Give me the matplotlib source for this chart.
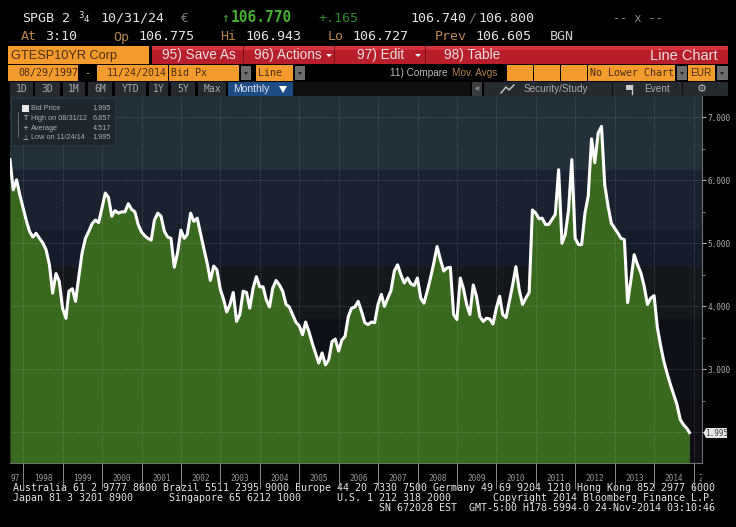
import matplotlib
matplotlib.use('Agg')
import pandas as pd
import matplotlib.dates as mdates
from matplotlib import pyplot as plt
from matplotlib.patches import Rectangle, Polygon

# monthly bid yield
y1997 = [6.33, 5.85, 6.01, 5.77, 5.56]
y1998 = [5.35, 5.19, 5.10, 5.16, 5.08, 5.01, 4.90, 4.66, 4.21, 4.52, 4.40, 3.97]
y1999 = [3.81, 4.24, 4.28, 4.08, 4.48, 4.85, 5.08, 5.19, 5.31, 5.37, 5.33, 5.56]
y2000 = [5.80, 5.73, 5.43, 5.52, 5.48, 5.50, 5.50, 5.63, 5.54, 5.50, 5.30, 5.18]
y2001 = [5.12, 5.08, 5.05, 5.37, 5.48, 5.43, 5.19, 5.10, 5.08, 4.62, 4.85, 5.21]
y2002 = [5.08, 5.14, 5.48, 5.35, 5.40, 5.16, 4.92, 4.69, 4.41, 4.64, 4.58, 4.27]
y2003 = [4.11, 3.91, 4.03, 4.22, 3.76, 3.87, 4.24, 4.22, 3.97, 4.29, 4.47, 4.31]
y2004 = [4.31, 4.11, 3.99, 4.29, 4.41, 4.34, 4.24, 4.03, 3.99, 3.87, 3.75, 3.69]
y2005 = [3.55, 3.75, 3.60, 3.42, 3.26, 3.10, 3.26, 3.07, 3.15, 3.44, 3.48, 3.29]
y2006 = [3.47, 3.52, 3.84, 3.97, 3.99, 4.08, 3.92, 3.74, 3.71, 3.75, 3.74, 4.03]
y2007 = [4.19, 4.00, 4.13, 4.25, 4.56, 4.66, 4.50, 4.37, 4.45, 4.36, 4.33, 4.45]
y2008 = [4.13, 4.05, 4.24, 4.45, 4.69, 4.95, 4.74, 4.56, 4.61, 4.62, 3.87, 3.79]
y2009 = [4.45, 4.29, 4.03, 3.87, 4.34, 4.16, 3.84, 3.76, 3.81, 3.80, 3.72, 3.97]
y2010 = [4.16, 3.87, 3.82, 4.08, 4.34, 4.63, 4.26, 4.03, 4.13, 4.22, 5.53, 5.48]
y2011 = [5.39, 5.40, 5.30, 5.30, 5.38, 5.46, 6.17, 5.00, 5.14, 5.53, 6.33, 5.08]
y2012 = [4.98, 4.98, 5.48, 5.75, 6.66, 6.28, 6.75, 6.857, 5.93, 5.59, 5.32, 5.24]
y2013 = [5.16, 5.08, 5.06, 4.06, 4.42, 4.82, 4.66, 4.53, 4.32, 4.03, 4.13, 4.17]
y2014 = [3.66, 3.39, 3.13, 2.94, 2.76, 2.60, 2.44, 2.20, 2.12, 2.06, 1.995]

values = y1997 + y1998 + y1999 + y2000 + y2001 + y2002 + y2003 + y2004 + y2005 \
    + y2006 + y2007 + y2008 + y2009 + y2010 + y2011 + y2012 + y2013 + y2014
dates = list(pd.date_range('1997-08-31', periods=len(values), freq='ME'))
dates[-1] = pd.Timestamp('2014-11-24')

years = list(range(1998, 2016))
ytick_major = [2, 3, 4, 5, 6, 7]
ytick_minor = [2.5, 3.5, 4.5, 5.5, 6.5]
ytick_labels = ['', '3.000', '4.000', '5.000', '6.000', '7.000']

legend_names = ['Bid Price', 'High on 08/31/12', 'Average', 'Low on 11/24/14']
legend_values = ['1.995', '6.857', '4.517', '1.995']

band_edges = [7.34, 6.16, 5.21, 4.62, 3.8, 2.5, 1.52]
band_colors = ['#22303a', '#1a2230', '#141c2a', '#14181d', '#0f1119', '#0e0e14']

GREEN = '#38691e'
ORANGE = '#f59a2c'
RED = '#b81d2a'
WHITE = '#e4e4e4'
LABEL = '#b5834f'
DARK = '#4a2d0c'
GREY = '#9a9a9a'
MONO = 'DejaVu Sans Mono'
SANS = 'Liberation Sans'

W, H = 736, 527
fig = plt.figure(figsize=(W / 100, H / 100), dpi=100, facecolor='black')

#==============================================================================
# terminal chrome, in pixels
#==============================================================================
bg = fig.add_axes([0, 0, 1, 1])
bg.set_xlim(0, W)
bg.set_ylim(H, 0)
bg.axis('off')


def box(x0, x1, y0, y1, color):
    bg.add_patch(Rectangle((x0, y0), x1 - x0, y1 - y0, fc=color, ec='none'))


def txt(x, y, s, color=WHITE, size=9.6, family=MONO, **kw):
    kw.setdefault('ha', 'left')
    bg.text(x, y, s, color=color, fontsize=size, family=family, va='center', **kw)


# quote lines
txt(22, 18, 'SPGB')
txt(62, 18, '2')
txt(78, 15, '3', size=6.5)
txt(84, 20, '4', size=6.5)
txt(100, 18, '10/31/24')
txt(181, 18, '€', color='#777777')
txt(221, 18, '↑', color='#3fa535')
txt(231, 18, '106.770', color='#43b02f', size=10.5, weight='bold')
txt(318, 18, '+.165', color='#2f8a2a')
txt(410, 18, '106.740')
txt(468, 18, '/', color='#777777')
txt(478, 18, '106.800')
txt(613, 18, '-- x --', color='#888888', size=8.5)

txt(21, 37, 'At', color=LABEL)
txt(45, 37, '3:10')
txt(113, 37, 'Op', color=LABEL)
txt(138, 37, '106.775')
txt(220, 37, 'Hi', color=LABEL)
txt(245, 37, '106.943')
txt(328, 37, 'Lo', color=LABEL)
txt(352, 37, '106.727')
txt(435, 37, 'Prev', color=LABEL)
txt(475, 37, '106.605')
txt(550, 37, 'BGN', color='#cccccc')

# security / action bar
box(8, 149, 46, 64, ORANGE)
txt(11, 55.5, 'GTESP10YR Corp', color=DARK, size=9.2, family=SANS)
box(152, 728, 46, 64, RED)
box(152, 728, 46, 50, '#d8323f')
for sx in [243, 334, 425]:
    box(sx, sx + 1, 46, 64, '#7d0f1a')
txt(162, 55, '95) Save As', size=9.8, family=SANS)
txt(254, 55, '96) Actions', size=9.8, family=SANS)
txt(357, 55, '97) Edit', size=9.8, family=SANS)
txt(444, 55, '98) Table', size=9.8, family=SANS)
txt(650, 56, 'Line Chart', size=10.5, family=SANS)
for dx in [329, 418]:
    bg.add_patch(Polygon([(dx - 3, 54), (dx + 3, 54), (dx, 57)], fc='white', ec='none'))

# field row
for x0, x1 in [(8, 78), (97, 168), (169, 239), (256, 293), (507, 533), (534, 560), (561, 587),
               (588, 675), (688, 715)]:
    box(x0, x1, 65, 81, ORANGE)
for x0, x1 in [(241, 251), (295, 305), (677, 687), (717, 728)]:
    box(x0, x1, 66, 80, '#6e6e6e')
    bg.add_patch(Polygon([(x0 + 3, 72), (x0 + 7, 72), (x0 + 5, 75)], fc='#222222', ec='none'))
txt(18, 73, '08/29/1997', color=DARK, size=7.2)
txt(87.5, 73, '-', color=ORANGE, size=7.2, ha='center')
txt(107, 73, '11/24/2014', color=DARK, size=7.2)
txt(171, 73, 'Bid Px', color=DARK, size=7.2)
txt(258, 73, 'Line', color=DARK, size=7.2)
txt(390, 73, '11) Compare', color='#b8b8b8', size=7.2, family=SANS)
txt(452, 73, 'Mov. Avgs', color=LABEL, size=7.2, family=SANS)
txt(590, 73, 'No Lower Chart', color=DARK, size=7.2)
txt(690, 73, 'EUR', color=DARK, size=7.2, family=SANS)

# range buttons
for x0, x1, s in [(10, 33, '1D'), (35, 60, '3D'), (63, 85, '1M'), (88, 112, '6M'), (115, 146, 'YTD'),
                  (149, 168, '1Y'), (171, 195, '5Y'), (198, 226, 'Max')]:
    box(x0, x1, 82, 96, '#26292d')
    txt((x0 + x1) / 2, 89.5, s, color='#a8a8a8', size=7, ha='center')
box(228, 293, 82, 96, '#1f4b84')
txt(233, 89.5, 'Monthly', color='#dfe7f0', size=7.5, family=SANS)
bg.add_patch(Polygon([(279, 86), (287, 86), (283, 93)], fc='white', ec='none'))
box(293, 470, 82, 96, '#101010')
box(472, 482, 82, 96, '#3a3d40')
txt(477, 89.5, '«', color='#cccccc', size=6.5, ha='center')
box(484, 728, 82, 96, '#26292d')
for sx in [612, 682]:
    box(sx, sx + 1, 82, 96, '#101010')
txt(524, 89.5, 'Security/Study', color='#a8a8a8', size=7.2, family=SANS)
txt(644, 89.5, 'Event', color='#a8a8a8', size=7.2, family=SANS)
txt(702, 89.5, '⚙', color='#b8b8b8', size=8, ha='center', family='DejaVu Sans')
bg.plot([501, 506, 509, 514], [93, 87, 90, 85], color='#cccccc', lw=1)
bg.add_patch(Rectangle((626, 85), 7, 5, fc='#cccccc', ec='none'))
bg.plot([632, 632], [85, 94], color='#cccccc', lw=1)

# footer
txt(13, 488, 'Australia 61 2 9777 8600 Brazil 5511 2395 9000 Europe 44 20 7330 7500 '
             'Germany 49 69 9204 1210 Hong Kong 852 2977 6000', size=7.2)
txt(13, 498, 'Japan 81 3 3201 8900', size=7.2)
txt(169, 498, 'Singapore 65 6212 1000', size=7.2)
txt(337, 498, 'U.S. 1 212 318 2000', size=7.2)
txt(493, 498, 'Copyright 2014 Bloomberg Finance L.P.', size=7.2)
txt(379, 508, 'SN 672028 EST  GMT-5:00 H178-5994-0 24-Nov-2014 03:10:46', size=7.2)

#==============================================================================
# the chart
#==============================================================================
ax = fig.add_axes([10 / W, 1 - 462.5 / H, 692 / W, 366.5 / H], facecolor='#0e0e14')
for i, c in enumerate(band_colors):
    ax.axhspan(band_edges[i + 1], band_edges[i], color=c, lw=0, zorder=0)

ax.fill_between(dates, values, band_edges[-1], color=GREEN, lw=0, zorder=1)
ax.plot(dates, values, color='white', lw=2.2, solid_joinstyle='round', zorder=3)

ax.set_xlim(pd.Timestamp('1997-08-31'), pd.Timestamp('2015-03-20'))
ax.set_ylim(band_edges[-1], band_edges[0])

ax.set_xticks([mdates.date2num(pd.Timestamp(y, 1, 1)) for y in years])
ax.set_xticklabels([])
ax.tick_params(axis='x', length=19, width=0.7, color='#8a8a8a')
ax.yaxis.tick_right()
ax.set_yticks(ytick_major)
ax.set_yticklabels(ytick_labels, color='#b0b0b0', fontsize=5.6, family=MONO)
ax.set_yticks(ytick_minor, minor=True)
ax.tick_params(axis='y', which='major', length=3, width=0.8, color='#b0b0b0', pad=1)
ax.tick_params(axis='y', which='minor', length=2, width=0.6, color='#8a8a8a')

ax.grid(True, which='major', color='white', alpha=0.25, lw=0.6, ls=(0, (1, 1.5)))
ax.set_axisbelow(False)
for line in ax.get_xgridlines() + ax.get_ygridlines():
    line.set_zorder(2)

for side in ['top', 'left']:
    ax.spines[side].set_visible(False)
for side in ['right', 'bottom']:
    ax.spines[side].set_color('#6f6f6f')
    ax.spines[side].set_linewidth(0.8)

# year labels sit between the ticks, the last one is cut by the frame
trans = ax.get_xaxis_transform()
ax.text(pd.Timestamp('1997-10-20'), -0.0435, '97', transform=trans, color=GREY, fontsize=5.6,
        family=MONO, ha='center', va='center', clip_on=False)
for y in years[:-1]:
    ax.text(pd.Timestamp(y, 7, 1), -0.0435, str(y), transform=trans, color=GREY, fontsize=5.6,
            family=MONO, ha='center', va='center', clip_on=False)
last = ax.text(pd.Timestamp(years[-1], 2, 11), -0.0435, str(years[-1]), transform=trans, color=GREY,
               fontsize=5.6, family=MONO, ha='left', va='center')
last.set_clip_path(Rectangle((0, 0), 702, H, transform=None))
last.set_clip_on(True)

# last value flag
bg2 = fig.add_axes([0, 0, 1, 1], facecolor='none')
bg2.set_xlim(0, W)
bg2.set_ylim(H, 0)
bg2.axis('off')
bg2.add_patch(Polygon([(703.5, 433), (706, 428), (727, 428), (727, 438), (706, 438)], fc='#e6e6e6', ec='none'))
bg2.text(716.5, 433.2, '%.3f' % values[-1], color='#444444', fontsize=5.6, family=MONO, ha='center', va='center')

# legend box
bg2.add_patch(Rectangle((11, 98), 104, 47, fc='#1d272d', ec='#2f3a40', lw=0.6))
bg2.add_patch(Rectangle((22, 105), 7, 7, fc='#e8e8e8', ec='none'))
legend_y = [109, 118.5, 128, 137.5]
for name, val, ly in zip(legend_names, legend_values, legend_y):
    bg2.text(31, ly, name, color='#a9b0b5', fontsize=5.3, family=SANS, va='center')
    bg2.text(111, ly, val, color='#a9b0b5', fontsize=5.3, family=SANS, va='center', ha='right')
bg2.plot([18, 18], [112, 137], color='#80888c', lw=0.5)
for ly, mark in [(118.5, 'T'), (128, '+'), (137.5, '⊥')]:
    bg2.text(25, ly, mark, color='#cfcfcf', fontsize=5, family='DejaVu Sans', ha='center', va='center')

fig.savefig('out.png', dpi=100, facecolor='black')
